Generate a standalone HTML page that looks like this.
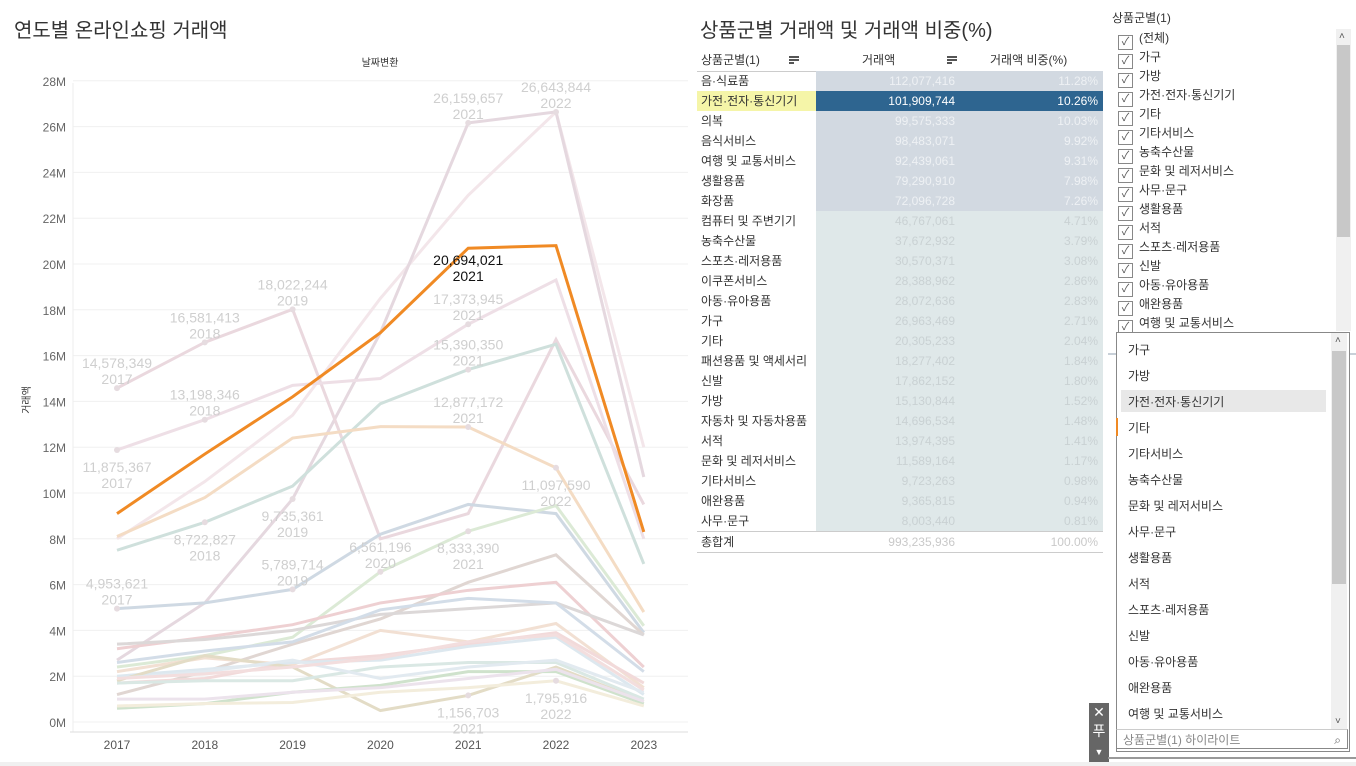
<!DOCTYPE html>
<html><head><meta charset="utf-8"><style>
body{margin:0;width:1356px;height:766px;background:#fff;overflow:hidden;position:relative;font-family:"Liberation Sans","Noto Sans CJK KR",sans-serif;}
.abs{position:absolute;}
.t{white-space:nowrap;}
.row{position:absolute;left:697px;width:406px;height:20px;font-size:12px;line-height:20px;}
.row .n{position:absolute;left:0;width:119px;padding-left:4px;color:#333;box-sizing:border-box;height:20px}
.row .bg{position:absolute;left:119px;width:287px;height:20px}
.row .v{position:absolute;right:148px;}
.row .p{position:absolute;right:5px;}
.cb{position:absolute;left:1118px;font-size:12px;color:#333;height:19px;line-height:19px;}
.cb i{display:inline-block;width:13px;height:13px;border:1px solid #888;vertical-align:-3px;margin-right:6px;font-style:normal;font-size:11px;line-height:13px;text-align:center;color:#555}
.dd{position:absolute;left:1128px;font-size:12px;color:#333;}
</style></head><body>
<div class="abs t" style="left:14px;top:14px;font-size:20px;color:#333">연도별 온라인쇼핑 거래액</div>
<div class="abs t" style="left:700px;top:14px;font-size:20px;color:#333">상품군별 거래액 및 거래액 비중(%)</div>
<svg class="abs" style="left:0;top:0" width="695" height="766" id="chart"></svg>

<div class="row" style="top:50px;height:21px;border-bottom:1px solid #ccc">
 <span class="abs t" style="left:4px;color:#333">상품군별(1)</span>
 <span class="abs" style="left:92px;top:6px;width:10px;height:2px;background:#555;box-shadow:0 3px 0 #555"></span><span class="abs" style="left:92px;top:12px;width:5px;height:2px;background:#555"></span>
 <span class="abs t" style="left:165px;color:#333">거래액</span>
 <span class="abs" style="left:250px;top:6px;width:10px;height:2px;background:#555;box-shadow:0 3px 0 #555"></span><span class="abs" style="left:250px;top:12px;width:5px;height:2px;background:#555"></span>
 <span class="abs t" style="left:293px;color:#333">거래액 비중(%)</span>
</div>
<div id="table"></div>

<div class="abs t" style="left:1112px;top:9px;font-size:12px;color:#333">상품군별(1)</div>
<div id="filters"></div>
<div class="abs" style="left:1336px;top:29px;width:15px;height:302px;background:#f0f0f0"><div style="position:absolute;top:16px;left:1px;width:13px;height:192px;background:#c8c8c8"></div><div style="position:absolute;top:2px;left:3px;font-size:10px;color:#555">˄</div></div>
<div class="abs" style="left:1108px;top:353px;width:248px;height:2px;background:#c8d0d8"></div>

<div class="abs" style="left:1116px;top:332px;width:232px;height:418px;border:1px solid #888;background:#fff"></div>
<div class="abs" style="left:1121px;top:390px;width:205px;height:22px;background:#e8e8e8"></div>
<div class="abs" style="left:1116px;top:418px;width:2px;height:18px;background:#f08a24"></div>
<div id="dd"></div>
<div class="abs" style="left:1331px;top:333px;width:16px;height:396px;background:#f0f0f0"><div style="position:absolute;top:18px;left:1px;width:14px;height:233px;background:#c8c8c8"></div><div style="position:absolute;top:2px;left:4px;font-size:10px;color:#555">˄</div><div style="position:absolute;bottom:2px;left:4px;font-size:10px;color:#555">˅</div></div>
<div class="abs" style="left:1116px;top:729px;width:232px;height:20px;border:1px solid #888;border-top:1px solid #ccc;background:#fff;font-size:12px;line-height:20px;color:#888;padding-left:6px;box-sizing:border-box">상품군별(1) 하이라이트<span style="position:absolute;right:6px;color:#666">⌕</span></div>
<div class="abs" style="left:1089px;top:703px;width:20px;height:60px;background:#666;color:#fff;font-size:14px;text-align:center;line-height:19px">✕<br>푸<br><span style="font-size:9px">▼</span></div>
<div class="abs" style="left:1108px;top:757px;width:248px;height:2px;background:#999"></div>
<div class="abs" style="left:0;top:762px;width:1356px;height:4px;background:#f0f0f0"></div>

<script>
const years=[2017,2018,2019,2020,2021,2022,2023];
const s01=[8.0,10.5,13.4,18.5,23.0,26.64,12.0];
const s02=[2.7,5.2,9.74,17.0,26.16,26.64,10.7];
const s03=[14.58,16.58,18.02,8.0,9.1,16.7,9.5];
const s04=[11.88,13.2,14.7,15.0,17.37,19.3,8.0];
const s05=[7.5,8.72,10.3,13.9,15.39,16.5,6.9];
const s06=[8.1,9.8,12.4,12.9,12.88,11.1,4.8];
const s07=[4.95,5.2,5.79,8.2,9.5,9.1,3.9];
const s08=[2.4,2.9,3.7,6.56,8.33,9.45,4.2];
const s09=[1.2,2.2,3.4,4.5,6.1,7.3,3.8];
const s10=[3.2,3.7,4.25,5.2,5.75,6.1,2.4];
const s11=[3.4,3.6,4.0,4.7,4.95,5.2,3.8];
const s12=[2.6,3.1,3.5,4.9,5.4,5.2,2.2];
const s13=[2.2,2.8,2.5,4.0,3.5,4.3,1.5];
const s14=[1.7,1.9,2.6,2.9,3.4,3.9,1.7];
const s15=[2.0,2.3,2.6,2.7,3.3,3.7,1.2];
const s16=[1.8,2.9,2.4,0.5,1.16,2.4,0.9];
const s17=[1.7,1.8,1.8,2.4,2.6,2.6,1.0];
const s18=[1.9,2.2,2.7,1.9,2.4,2.7,1.3];
const s19=[0.6,0.8,1.3,1.6,2.2,2.2,0.8];
const s20=[0.7,0.8,0.85,1.3,1.5,1.8,0.7];
const s21=[1.0,1.0,1.3,1.5,1.9,2.3,0.9];
const s22=[1.9,2.1,2.4,2.8,3.5,3.8,1.4];
const highlight=[9.1,11.7,14.2,17.0,20.69,20.8,8.3];
const yTicks=[0,2,4,6,8,10,12,14,16,18,20,22,24,26,28];
const labels=[[2017,14.58,"14,578,349"],[2018,16.58,"16,581,413"],[2019,18.02,"18,022,244"],[2021,26.16,"26,159,657"],[2022,26.64,"26,643,844"],[2021,17.37,"17,373,945"],[2021,15.39,"15,390,350"],[2021,12.88,"12,877,172"],[2018,13.2,"13,198,346"],[2017,11.88,"11,875,367",1],[2022,11.1,"11,097,590",1],[2019,9.74,"9,735,361",1],[2018,8.72,"8,722,827",1],[2021,8.33,"8,333,390",1],[2019,5.79,"5,789,714"],[2020,6.56,"6,561,196"],[2017,4.95,"4,953,621"],[2021,1.16,"1,156,703",1],[2022,1.8,"1,795,916",1]];
const series=[s01,s02,s03,s04,s05,s06,s07,s08,s09,s10,s11,s12,s13,s14,s15,s16,s17,s18,s19,s20,s21,s22];
const colors=["#f3e6ea","#e5d8df","#ead8de","#eedfe6","#cfe0dc","#f4dcc4","#cfd9e3","#dcead6","#e0d6d2","#eed0d2","#dcd8d8","#d3dde8","#f2e0d3","#f2dada","#dde8ef","#e3dcc6","#dae8e4","#e2eaf0","#cfe2cc","#f3eddc","#ece3ec","#f3dede"];
const svg=document.getElementById('chart');const NS="http://www.w3.org/2000/svg";
const x=y=>117+(y-2017)*87.8;const yv=v=>722-v*22.9;
function el(t,a,p){const e=document.createElementNS(NS,t);for(const k in a)e.setAttribute(k,a[k]);(p||svg).appendChild(e);return e;}
yTicks.forEach(v=>{const g=el('line',{x1:73,x2:688,y1:yv(v),y2:yv(v),stroke:'#f0f0f0'});
const t=el('text',{x:66,y:yv(v)+5,'text-anchor':'end','font-size':12,fill:'#666'});t.textContent=v+'M';});
el('line',{x1:73,x2:73,y1:83,y2:732,stroke:'#eee'});el('line',{x1:70,x2:688,y1:732,y2:732,stroke:'#ddd'});
years.forEach(yr=>{const t=el('text',{x:x(yr),y:749,'text-anchor':'middle','font-size':12,fill:'#555'});t.textContent=yr;});
let t=el('text',{x:380,y:66,'text-anchor':'middle','font-size':10,fill:'#333'});t.textContent='날짜변환';
t=el('text',{x:0,y:0,'text-anchor':'middle','font-size':10,fill:'#333',transform:'translate(30,400) rotate(-90)'});t.textContent='거래액';
series.forEach((s,i)=>{const p=el('polyline',{points:s.map((v,j)=>x(years[j])+','+yv(v)).join(' '),fill:'none',stroke:colors[i],'stroke-width':3});});
const hl=el('polyline',{points:highlight.map((v,j)=>x(years[j])+','+yv(v)).join(' '),fill:'none',stroke:'#f08a24','stroke-width':3});
labels.forEach(l=>{const cx=x(l[0]),cy=yv(l[1]);el('circle',{cx:cx,cy:cy,r:3,fill:'#e6dce0'});const base=l[3]?cy+22:cy-20;
const a=el('text',{x:cx,y:base,'text-anchor':'middle','font-size':14,fill:'#cfcfcf'});a.textContent=l[2];
const b=el('text',{x:cx,y:base+16,'text-anchor':'middle','font-size':14,fill:'#cfcfcf'});b.textContent=l[0];});
const a=el('text',{x:x(2021),y:yv(20.69)+17,'text-anchor':'middle','font-size':14,fill:'#111'});a.textContent='20,694,021';
const b=el('text',{x:x(2021),y:yv(20.69)+33,'text-anchor':'middle','font-size':14,fill:'#111'});b.textContent='2021';

const cats=["음·식료품","가전·전자·통신기기","의복","음식서비스","여행 및 교통서비스","생활용품","화장품","컴퓨터 및 주변기기","농축수산물","스포츠·레저용품","이쿠폰서비스","아동·유아용품","가구","기타","패션용품 및 액세서리","신발","가방","자동차 및 자동차용품","서적","문화 및 레저서비스","기타서비스","애완용품","사무·문구"];
const amounts=["112,077,416","101,909,744","99,575,333","98,483,071","92,439,061","79,290,910","72,096,728","46,767,061","37,672,932","30,570,371","28,388,962","28,072,636","26,963,469","20,305,233","18,277,402","17,862,152","15,130,844","14,696,534","13,974,395","11,589,164","9,723,263","9,365,815","8,003,440"];
const shares=["11.28%","10.26%","10.03%","9.92%","9.31%","7.98%","7.26%","4.71%","3.79%","3.08%","2.86%","2.83%","2.71%","2.04%","1.84%","1.80%","1.52%","1.48%","1.41%","1.17%","0.98%","0.94%","0.81%"];
const tb=document.getElementById('table');
cats.forEach((c,i)=>{const r=document.createElement('div');r.className='row';r.style.top=(71+i*20)+'px';


const hi=i==1;const bg=hi?'#2e6590':(i<7?'#d2d9e1':'#dfe8e9');const fc=hi?'#fff':(i<7?'#eef1f4':'#c9d1d3');
r.innerHTML=`<div class="n" style="${hi?'background:#f5f5a8':''}">${c}</div><div class="bg" style="background:${bg};color:${fc}"><span class="v">${amounts[i]}</span><span class="p">${shares[i]}</span></div>`;tb.appendChild(r);});
const tr=document.createElement('div');tr.className='row';tr.style.top='531px';tr.style.borderTop='1px solid #ccc';tr.style.borderBottom='1px solid #ccc';


tr.innerHTML='<div class="n">총합계</div><div class="bg" style="color:#c9c9c9"><span class="v">993,235,936</span><span class="p">100.00%</span></div>';tb.appendChild(tr);

const fl=["(전체)","가구","가방","가전·전자·통신기기","기타","기타서비스","농축수산물","문화 및 레저서비스","사무·문구","생활용품","서적","스포츠·레저용품","신발","아동·유아용품","애완용품","여행 및 교통서비스"];
const fd=document.getElementById('filters');
fl.forEach((f,i)=>{const d=document.createElement('div');d.className='cb';d.style.top=(29+i*19)+'px';


d.innerHTML='<i>✓</i>'+f;fd.appendChild(d);});
const dl=["가구","가방","가전·전자·통신기기","기타","기타서비스","농축수산물","문화 및 레저서비스","사무·문구","생활용품","서적","스포츠·레저용품","신발","아동·유아용품","애완용품","여행 및 교통서비스"];
const dd=document.getElementById('dd');
dl.forEach((f,i)=>{const d=document.createElement('div');d.className='dd';d.style.top=(341+i*26)+'px';


d.textContent=f;dd.appendChild(d);});
</script>
</body></html>
